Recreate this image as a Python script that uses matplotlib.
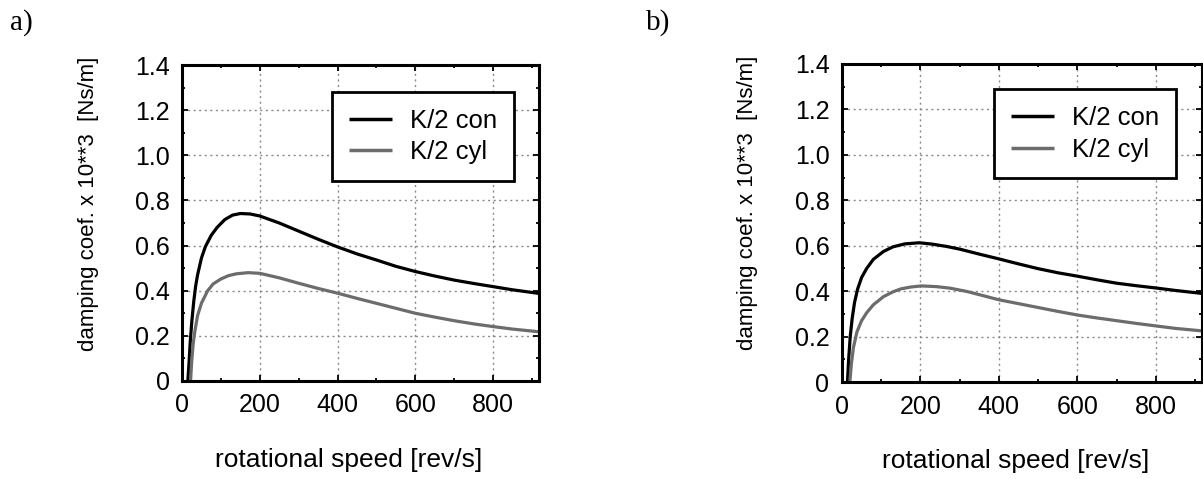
import matplotlib
matplotlib.use("Agg")
import matplotlib.pyplot as plt
from matplotlib.ticker import MultipleLocator

plt.rcParams.update({
    "font.family": ["Liberation Sans", "DejaVu Sans"],
    "xtick.direction": "in",
    "ytick.direction": "in",
})

# ── data ─────────────────────────────────────────────────────────────────────
a_con_x = [15, 18, 21, 25, 30, 35, 40, 50, 60, 75, 90, 110, 130, 150, 175, 200,
           250, 300, 350, 400, 450, 500, 550, 600, 650, 700, 750, 800, 850, 918]
a_con_y = [0.00, 0.08, 0.17, 0.26, 0.35, 0.42, 0.47, 0.545, 0.595, 0.645, 0.68,
           0.715, 0.735, 0.742, 0.74, 0.731, 0.70, 0.664, 0.628, 0.594, 0.563,
           0.536, 0.508, 0.485, 0.465, 0.447, 0.432, 0.418, 0.404, 0.388]

a_cyl_x = [22, 25, 29, 33, 40, 50, 66, 80, 100, 120, 140, 170, 200, 250, 300,
           350, 400, 450, 500, 550, 600, 650, 700, 750, 800, 850, 918]
a_cyl_y = [0.00, 0.09, 0.17, 0.22, 0.29, 0.345, 0.40, 0.43, 0.452, 0.467, 0.475,
           0.48, 0.477, 0.457, 0.433, 0.41, 0.389, 0.366, 0.344, 0.322, 0.30,
           0.283, 0.267, 0.253, 0.241, 0.23, 0.218]

b_con_x = [14, 17, 21, 26, 32, 40, 50, 63, 80, 106, 130, 160, 197, 230, 266, 300,
           350, 400, 450, 500, 550, 600, 650, 700, 750, 800, 850, 918]
b_con_y = [0.00, 0.10, 0.20, 0.28, 0.35, 0.41, 0.46, 0.50, 0.54, 0.575, 0.595,
           0.608, 0.613, 0.607, 0.597, 0.585, 0.563, 0.542, 0.52, 0.499, 0.481,
           0.466, 0.45, 0.435, 0.424, 0.414, 0.403, 0.39]

b_cyl_x = [20, 24, 29, 38, 50, 63, 80, 106, 130, 150, 175, 202, 240, 276, 320,
           360, 400, 450, 500, 550, 600, 650, 700, 750, 800, 850, 918]
b_cyl_y = [0.00, 0.08, 0.15, 0.22, 0.27, 0.305, 0.34, 0.376, 0.397, 0.41, 0.418,
           0.423, 0.42, 0.413, 0.398, 0.38, 0.362, 0.345, 0.328, 0.311, 0.295,
           0.282, 0.27, 0.258, 0.247, 0.236, 0.225]

series_labels = ["K/2 con", "K/2 cyl"]
panel_tags = ["a)", "b)"]
x_ticks = [0, 200, 400, 600, 800]
y_ticks = [0, 0.2, 0.4, 0.6, 0.8, 1.0, 1.2, 1.4]
y_ticklabels = ["0", "0.2", "0.4", "0.6", "0.8", "1.0", "1.2", "1.4"]
x_label = "rotational speed [rev/s]"
y_label = "damping coef. x 10**3  [Ns/m]"

CON_COLOR = "#000000"
CYL_COLOR = "#6c6c6c"

fig = plt.figure(figsize=(12.03, 4.79), dpi=100)
ax_a = fig.add_axes([0.1513, 0.2046, 0.2968, 0.6597])
ax_b = fig.add_axes([0.6999, 0.2025, 0.2993, 0.6639])

panels = [
    (ax_a, (a_con_x, a_con_y), (a_cyl_x, a_cyl_y), (0.930, 0.915)),
    (ax_b, (b_con_x, b_con_y), (b_cyl_x, b_cyl_y), (0.928, 0.921)),
]

for ax, con, cyl, leg_anchor in panels:
    ax.plot(con[0], con[1], color=CON_COLOR, lw=2.3, label=series_labels[0],
            solid_capstyle="butt")
    ax.plot(cyl[0], cyl[1], color=CYL_COLOR, lw=2.3, label=series_labels[1],
            solid_capstyle="butt")

    ax.set_xlim(0, 918)
    ax.set_ylim(0, 1.4)
    ax.set_xticks(x_ticks)
    ax.set_yticks(y_ticks)
    ax.set_yticklabels(y_ticklabels)
    ax.xaxis.set_minor_locator(MultipleLocator(100))
    ax.yaxis.set_minor_locator(MultipleLocator(0.1))
    ax.tick_params(which="both", top=True, right=True, width=1.3, color="black")
    ax.tick_params(which="major", length=4, labelsize=18, pad=9)
    ax.tick_params(which="minor", length=2.5)

    ax.grid(True, which="major", linestyle=(0, (1.5, 2.5)), color="#8a8a8a", lw=1)
    for sp in ax.spines.values():
        sp.set_linewidth(2.2)
        sp.set_color("black")

    ax.set_xlabel(x_label, fontsize=19, va="top")
    ax.set_ylabel(y_label, fontsize=16)
    ax.yaxis.set_label_coords(-0.232, 0.562)

    leg = ax.legend(loc="upper right", bbox_to_anchor=leg_anchor, fontsize=18.5,
                    fancybox=False, framealpha=1, edgecolor="black",
                    handlelength=1.7, handletextpad=0.7, borderpad=0.65,
                    labelspacing=0.3, borderaxespad=0)
    leg.get_frame().set_linewidth(2.0)
    for line in leg.get_lines():
        line.set_linewidth(2.5)

ax_a.xaxis.set_label_coords(0.468, -0.212)
ax_b.xaxis.set_label_coords(0.483, -0.21)

fig.text(0.008, 0.954, panel_tags[0], fontsize=21, family="Liberation Serif",
         va="center", ha="left")
fig.text(0.537, 0.954, panel_tags[1], fontsize=21, family="Liberation Serif",
         va="center", ha="left")

fig.savefig("out.png", dpi=100)
